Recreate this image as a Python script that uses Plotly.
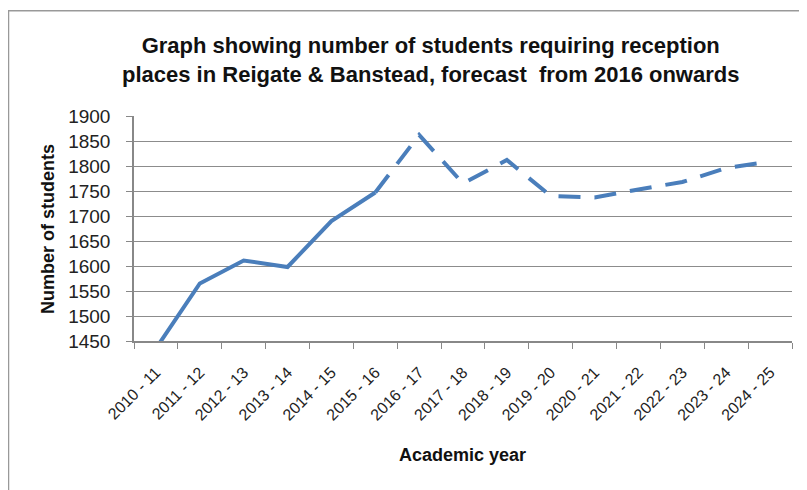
import plotly.graph_objects as go

years = ["2010 - 11", "2011 - 12", "2012 - 13", "2013 - 14", "2014 - 15", "2015 - 16",
         "2016 - 17", "2017 - 18", "2018 - 19", "2019 - 20", "2020 - 21", "2021 - 22",
         "2022 - 23", "2023 - 24", "2024 - 25"]
actual_years = years[:6]
actual_values = [1435, 1565, 1611, 1598, 1690, 1747]
forecast_years = years[5:]
forecast_values = [1747, 1862, 1765, 1812, 1740, 1737, 1753, 1768, 1796, 1809]

title_text = ("Graph showing number of students requiring reception<br>"
              "places in Reigate &amp; Banstead, forecast  from 2016 onwards")
x_title = "Academic year"
y_title = "Number of students"

LINE_COLOR = "#4a7ebb"
FONT = "Liberation Sans, Arial, sans-serif"

fig = go.Figure()
fig.add_trace(go.Scatter(x=actual_years, y=actual_values, mode="lines",
                         line=dict(color=LINE_COLOR, width=4), showlegend=False))
fig.add_trace(go.Scatter(x=forecast_years, y=forecast_values, mode="lines",
                         line=dict(color=LINE_COLOR, width=4, dash="22px,14px"), showlegend=False))

# page body has an 8px margin, so the figure is laid out in coordinates shifted by 8px
W, H = 799, 482
L, R, T, B = 126, 15, 108, 149
pw, ph = W - L - R, H - T - B

def px(x):
    return (x - L) / pw

def py(y):
    return (H - B - y) / ph

fig.update_layout(
    width=W, height=H,
    margin=dict(l=L, r=R, t=T, b=B, autoexpand=False),
    paper_bgcolor="white", plot_bgcolor="white",
    font=dict(family=FONT, color="#222"),
    xaxis=dict(
        type="category", range=[-0.5, 14.5], automargin=False,
        tickson="boundaries", ticks="outside", ticklen=6, tickcolor="#888",
        showline=True, linecolor="#888", linewidth=1.5,
        showgrid=False, tickangle=-45, ticklabelstandoff=14,
        tickfont=dict(family=FONT, size=16, color="#222"),
    ),
    yaxis=dict(
        range=[1450, 1900], dtick=50, tick0=1450, automargin=False,
        ticks="outside", ticklen=6, tickcolor="#888",
        showline=True, linecolor="#888", linewidth=1.5,
        showgrid=True, gridcolor="#8c8c8c", gridwidth=1.2,
        zeroline=False, ticklabelstandoff=12,
        tickfont=dict(family=FONT, size=19, color="#222"),
    ),
    annotations=[
        dict(text=f"<b>{title_text}</b>", xref="paper", yref="paper",
             x=px(422), y=py(52), xanchor="center", yanchor="middle", showarrow=False,
             font=dict(family=FONT, size=22, color="#111")),
        dict(text=f"<b>{x_title}</b>", xref="paper", yref="paper",
             x=px(454), y=py(447), xanchor="center", yanchor="middle", showarrow=False,
             font=dict(family=FONT, size=18, color="#111")),
        dict(text=f"<b>{y_title}</b>", xref="paper", yref="paper", textangle=-90,
             x=px(40), y=py(221), xanchor="center", yanchor="middle", showarrow=False,
             font=dict(family=FONT, size=18, color="#111")),
    ],
    shapes=[dict(type="path", xref="paper", yref="paper",
                 path=f"M {px(0.5)} {py(H + 5)} L {px(0.5)} {py(2.7)} L {px(W + 5)} {py(2.7)}",
                 line=dict(color="#999", width=1.5))],
)

fig.write_html("out.html")
